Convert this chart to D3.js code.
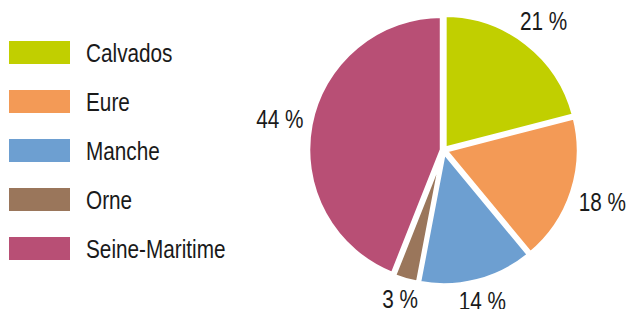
<!DOCTYPE html>
<html>
<head>
<meta charset="utf-8">
<script src="https://cdn.jsdelivr.net/npm/d3@7/dist/d3.min.js"></script>
<style>
  body { margin: 0; background: #fff; }
  svg text { font-family: "Liberation Sans", Arial, sans-serif; fill: #1a1a1a; }
</style>
</head>
<body>
<div id="chart"></div>
<script>
var departements = ["Calvados", "Eure", "Manche", "Orne", "Seine-Maritime"];
var parts = [21, 18, 14, 3, 44];
var couleurs = ["#c1cf00", "#f39a56", "#6d9fd1", "#9a765b", "#b84f75"];

var width = 629, height = 309;
var cx = 443.5, cy = 150;
var rayon = 134;       // rayon du remplissage (le trait blanc en mange la moitié)
var ecart = 1.5;       // petit décalage des parts vers l'extérieur
var fontSize = 25;
var etroit = 0.83;     // police condensée simulée

var svg = d3.select("#chart")
    .append("svg")
    .attr("width", width)
    .attr("height", height);

// ---- légende
var legende = d3.scaleBand()
    .domain(departements)
    .range([41, 41 + 49 * 5]);

var items = svg.selectAll("g.leg")
    .data(departements)
    .enter()
    .append("g")
    .attr("class", "leg")
    .attr("transform", function(d){ return "translate(0," + legende(d) + ")"; });

items.append("rect")
    .attr("x", 9)
    .attr("y", 0)
    .attr("width", 61)
    .attr("height", 23)
    .attr("fill", function(d, i){ return couleurs[i]; });

items.append("text")
    .attr("transform", "translate(86,21) scale(" + etroit + ",1)")
    .attr("font-size", fontSize + "px")
    .text(function(d){ return d; });

// ---- camembert
var pie = d3.pie().sort(null).value(function(d){ return d; });
var arc = d3.arc().innerRadius(0).outerRadius(rayon);
var arcs = pie(parts);

var g = svg.append("g").attr("transform", "translate(" + cx + "," + cy + ")");

var tranches = g.selectAll("g.arc")
    .data(arcs)
    .enter()
    .append("g")
    .attr("class", "arc")
    .attr("transform", function(d){
        var a = (d.startAngle + d.endAngle) / 2;
        return "translate(" + (Math.sin(a) * ecart) + "," + (-Math.cos(a) * ecart) + ")";
    });

tranches.append("path")
    .attr("d", arc)
    .attr("fill", function(d, i){ return couleurs[i]; })
    .attr("stroke", "#fff")
    .attr("stroke-width", 4.5)
    .attr("stroke-linejoin", "miter");

// ---- étiquettes
var rVisible = rayon - 2.25;
var gap = 10;
var labels = g.selectAll("text.pct")
    .data(arcs)
    .enter()
    .append("text")
    .attr("class", "pct")
    .attr("font-size", fontSize + "px")
    .attr("text-anchor", "middle")
    .text(function(d){ return d.data + " %"; });

labels.each(function(d){
    var bb = this.getBBox();
    var hw = bb.width * etroit / 2, hh = 9;
    var a = (d.startAngle + d.endAngle) / 2;
    var s = Math.sin(a), c = -Math.cos(a);
    var dist = rVisible + gap + Math.abs(s) * hw + Math.abs(c) * hh;
    d3.select(this)
        .attr("transform", "translate(" + (s * dist) + "," + (c * dist + 9) + ") scale(" + etroit + ",1)");
});
</script>
</body>
</html>
